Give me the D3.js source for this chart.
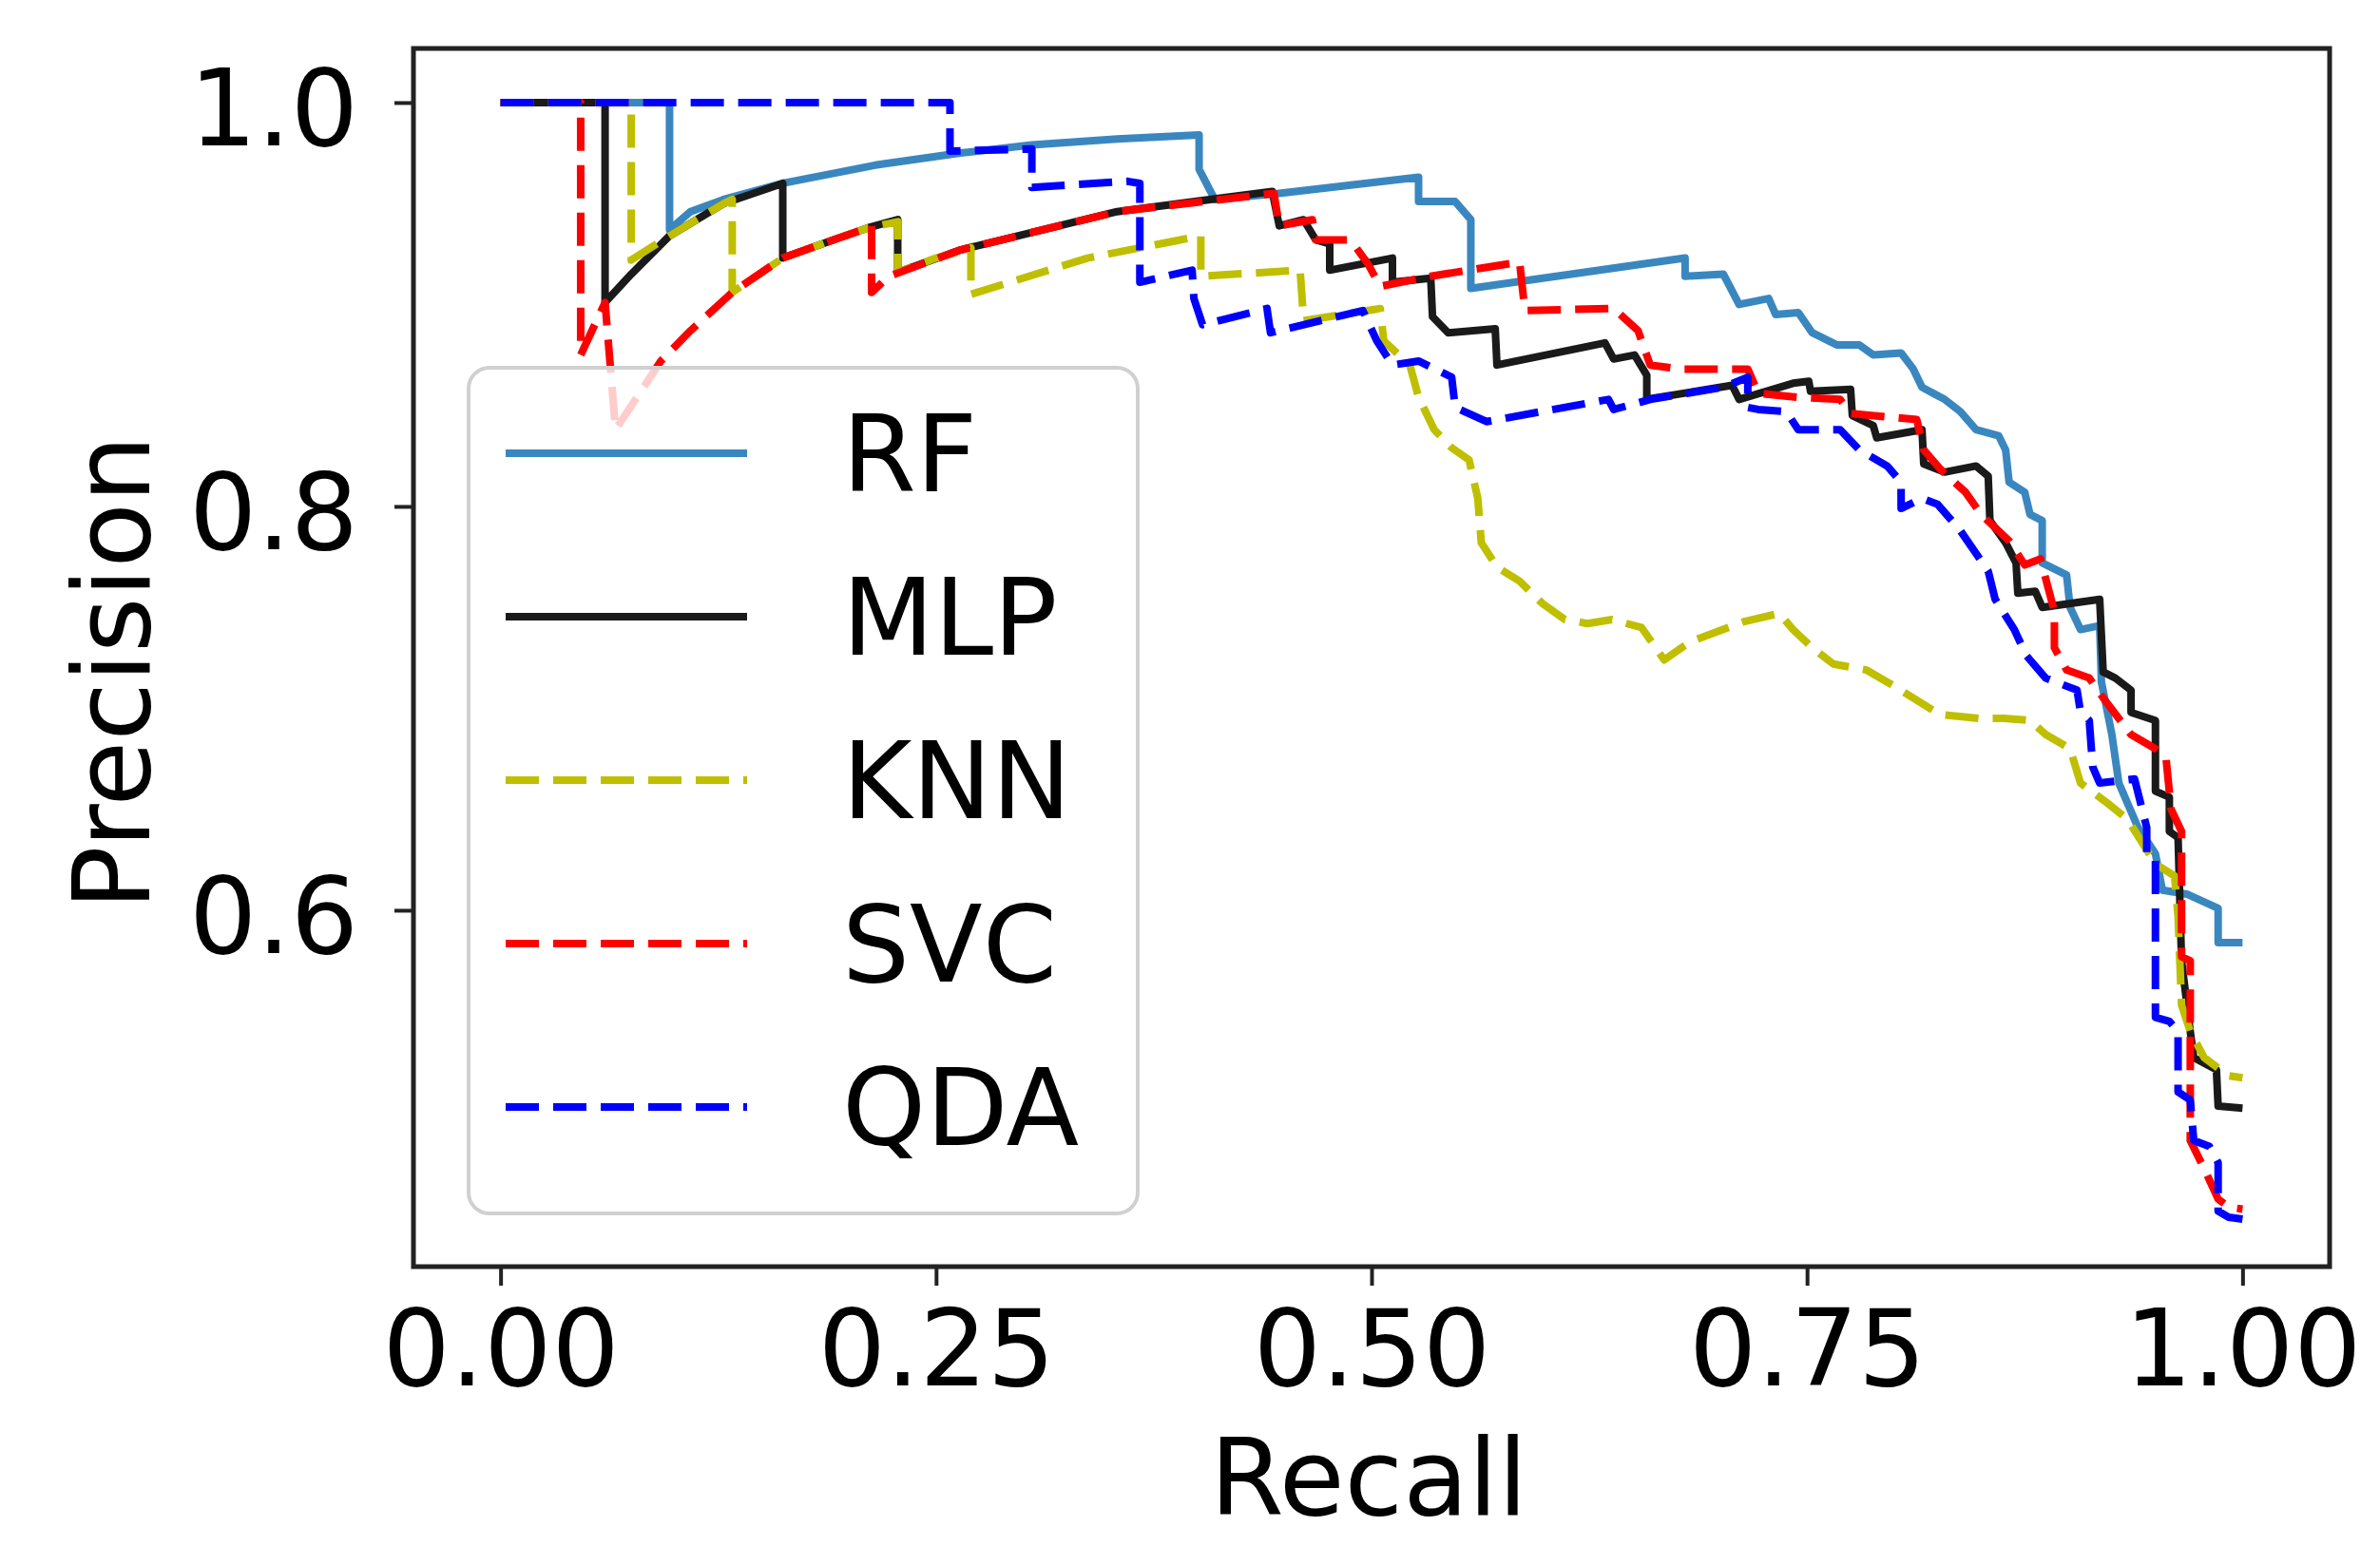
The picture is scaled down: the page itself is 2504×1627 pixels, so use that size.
<!DOCTYPE html>
<html>
<head>
<meta charset="utf-8">
<script src="https://cdnjs.cloudflare.com/ajax/libs/d3/7.8.5/d3.min.js"></script>
<style>
  body { margin: 0; background: #fff; }
  svg { display: block; }
  text { font-family: "DejaVu Sans", sans-serif; fill: #000; }
</style>
</head>
<body>
<svg id="chart"></svg>
<script>
// precision-recall curves
var models = ['RF', 'MLP', 'KNN', 'SVC', 'QDA'];
var colors = ['#3a87c0', '#1a1a1a', '#bfbf00', '#ff0000', '#0000ff'];
var dashed = [false, false, true, true, true];

var xTicks = [0, 0.25, 0.5, 0.75, 1.0];
var yTicks = [0.6, 0.8, 1.0];

var rfRecall = [0, 0.097, 0.097, 0.109, 0.128, 0.162, 0.215, 0.264, 0.305, 0.354, 0.401, 0.401, 0.410, 0.447, 0.527, 0.527, 0.548, 0.557, 0.557, 0.680, 0.680, 0.702, 0.711, 0.728, 0.732, 0.745, 0.753, 0.767, 0.780, 0.788, 0.804, 0.811, 0.816, 0.829, 0.838, 0.847, 0.860, 0.864, 0.866, 0.875, 0.878, 0.885, 0.885, 0.899, 0.901, 0.907, 0.918, 0.919, 0.925, 0.929, 0.940, 0.950, 0.954, 0.968, 0.986, 0.986, 1.0];
var rfPrecision = [1, 1, 0.937, 0.946, 0.952, 0.960, 0.969, 0.975, 0.979, 0.982, 0.984, 0.967, 0.952, 0.955, 0.963, 0.951, 0.951, 0.942, 0.908, 0.923, 0.914, 0.915, 0.900, 0.903, 0.895, 0.896, 0.886, 0.880, 0.880, 0.875, 0.876, 0.868, 0.859, 0.853, 0.847, 0.838, 0.835, 0.828, 0.812, 0.807, 0.796, 0.793, 0.772, 0.766, 0.750, 0.739, 0.741, 0.713, 0.687, 0.663, 0.641, 0.628, 0.610, 0.608, 0.601, 0.584, 0.584];

var mlpRecall = [0, 0.060, 0.060, 0.075, 0.097, 0.128, 0.162, 0.162, 0.191, 0.211, 0.228, 0.228, 0.264, 0.354, 0.443, 0.447, 0.461, 0.468, 0.476, 0.476, 0.512, 0.512, 0.534, 0.535, 0.544, 0.571, 0.572, 0.634, 0.639, 0.651, 0.658, 0.658, 0.707, 0.711, 0.742, 0.751, 0.752, 0.775, 0.776, 0.788, 0.790, 0.816, 0.817, 0.829, 0.847, 0.854, 0.855, 0.864, 0.870, 0.871, 0.881, 0.885, 0.918, 0.920, 0.927, 0.936, 0.936, 0.950, 0.950, 0.958, 0.958, 0.963, 0.965, 0.970, 0.972, 0.985, 0.986, 1.0];
var mlpPrecision = [1, 1, 0.901, 0.915, 0.934, 0.950, 0.960, 0.923, 0.932, 0.938, 0.942, 0.916, 0.927, 0.946, 0.956, 0.939, 0.942, 0.932, 0.930, 0.917, 0.923, 0.911, 0.913, 0.894, 0.886, 0.888, 0.870, 0.881, 0.873, 0.875, 0.865, 0.853, 0.860, 0.853, 0.861, 0.862, 0.857, 0.858, 0.845, 0.840, 0.834, 0.838, 0.821, 0.817, 0.820, 0.815, 0.793, 0.782, 0.772, 0.757, 0.758, 0.750, 0.754, 0.718, 0.715, 0.709, 0.698, 0.694, 0.659, 0.656, 0.639, 0.636, 0.575, 0.540, 0.527, 0.521, 0.503, 0.502];

var knnRecall = [0, 0.075, 0.075, 0.097, 0.128, 0.133, 0.133, 0.162, 0.191, 0.211, 0.228, 0.228, 0.250, 0.270, 0.270, 0.337, 0.402, 0.402, 0.459, 0.461, 0.505, 0.507, 0.522, 0.527, 0.536, 0.546, 0.556, 0.561, 0.563, 0.572, 0.585, 0.598, 0.611, 0.624, 0.638, 0.655, 0.668, 0.683, 0.714, 0.734, 0.742, 0.753, 0.765, 0.784, 0.800, 0.826, 0.849, 0.863, 0.878, 0.887, 0.901, 0.907, 0.921, 0.934, 0.950, 0.961, 0.963, 0.965, 0.970, 0.978, 0.992, 1.0];
var knnPrecision = [1, 1, 0.922, 0.934, 0.950, 0.952, 0.906, 0.923, 0.932, 0.938, 0.941, 0.916, 0.923, 0.928, 0.905, 0.923, 0.934, 0.914, 0.917, 0.892, 0.898, 0.882, 0.870, 0.854, 0.838, 0.829, 0.823, 0.804, 0.782, 0.770, 0.763, 0.752, 0.744, 0.742, 0.744, 0.740, 0.724, 0.733, 0.743, 0.747, 0.739, 0.730, 0.722, 0.719, 0.711, 0.697, 0.695, 0.695, 0.694, 0.687, 0.680, 0.663, 0.654, 0.645, 0.623, 0.617, 0.597, 0.553, 0.540, 0.527, 0.518, 0.517];

var svcRecall = [0, 0.046, 0.046, 0.060, 0.066, 0.092, 0.109, 0.133, 0.162, 0.191, 0.211, 0.213, 0.213, 0.223, 0.264, 0.354, 0.444, 0.447, 0.466, 0.468, 0.488, 0.498, 0.505, 0.534, 0.585, 0.588, 0.639, 0.653, 0.660, 0.677, 0.716, 0.722, 0.745, 0.769, 0.775, 0.813, 0.817, 0.827, 0.841, 0.850, 0.866, 0.875, 0.884, 0.892, 0.892, 0.899, 0.912, 0.921, 0.936, 0.950, 0.956, 0.959, 0.965, 0.965, 0.970, 0.970, 0.978, 0.986, 0.992, 1.0];
var svcPrecision = [1, 1, 0.875, 0.901, 0.838, 0.872, 0.887, 0.906, 0.923, 0.932, 0.938, 0.939, 0.906, 0.914, 0.927, 0.946, 0.955, 0.939, 0.942, 0.932, 0.932, 0.920, 0.909, 0.914, 0.921, 0.897, 0.898, 0.887, 0.870, 0.868, 0.868, 0.856, 0.854, 0.853, 0.846, 0.843, 0.828, 0.818, 0.807, 0.796, 0.783, 0.771, 0.774, 0.748, 0.730, 0.719, 0.715, 0.704, 0.687, 0.680, 0.676, 0.650, 0.639, 0.577, 0.575, 0.486, 0.472, 0.457, 0.453, 0.452];

var qdaRecall = [0, 0.258, 0.258, 0.305, 0.305, 0.360, 0.367, 0.367, 0.397, 0.398, 0.403, 0.440, 0.442, 0.495, 0.503, 0.512, 0.527, 0.546, 0.548, 0.566, 0.636, 0.639, 0.660, 0.702, 0.716, 0.716, 0.722, 0.738, 0.745, 0.769, 0.780, 0.796, 0.804, 0.804, 0.816, 0.825, 0.838, 0.854, 0.858, 0.869, 0.876, 0.887, 0.905, 0.907, 0.912, 0.914, 0.918, 0.938, 0.945, 0.945, 0.950, 0.950, 0.958, 0.963, 0.963, 0.970, 0.972, 0.981, 0.986, 0.986, 0.992, 1.0];
var qdaPrecision = [1, 1, 0.976, 0.977, 0.958, 0.961, 0.960, 0.911, 0.917, 0.903, 0.890, 0.898, 0.886, 0.897, 0.882, 0.870, 0.872, 0.864, 0.849, 0.842, 0.853, 0.848, 0.853, 0.859, 0.864, 0.849, 0.848, 0.847, 0.838, 0.838, 0.828, 0.820, 0.812, 0.799, 0.804, 0.801, 0.788, 0.768, 0.754, 0.739, 0.726, 0.715, 0.709, 0.698, 0.694, 0.671, 0.663, 0.665, 0.641, 0.628, 0.626, 0.547, 0.545, 0.540, 0.510, 0.506, 0.486, 0.483, 0.475, 0.451, 0.448, 0.447];

var recalls = [rfRecall, mlpRecall, knnRecall, svcRecall, qdaRecall];
var precisions = [rfPrecision, mlpPrecision, knnPrecision, svcPrecision, qdaPrecision];

var width = 2504;
var height = 1627;
var fontSize = 112;

var svg = d3.select('#chart')
  .attr('width', width)
  .attr('height', height);

var x = d3.scaleLinear().domain([-0.05, 1.05]).range([435, 2451]);
var y = d3.scaleLinear().domain([0.4235, 1.0268]).range([1333, 51]);

svg.append('defs').append('clipPath')
  .attr('id', 'plot-clip')
  .append('rect')
  .attr('x', x.range()[0])
  .attr('y', y.range()[1])
  .attr('width', x.range()[1] - x.range()[0])
  .attr('height', y.range()[0] - y.range()[1]);

var line = d3.line()
  .x(function(d) { return x(d[0]); })
  .y(function(d) { return y(d[1]); });

var curves = svg.append('g').attr('clip-path', 'url(#plot-clip)');

models.forEach(function(name, i) {
  var pts = d3.zip(recalls[i], precisions[i]);
  curves.append('path')
    .datum(pts)
    .attr('d', line)
    .attr('fill', 'none')
    .attr('stroke', colors[i])
    .attr('stroke-width', 8)
    .attr('stroke-linejoin', 'round')
    .attr('stroke-dasharray', dashed[i] ? '35,15' : null);
});

// axes
var xAxis = svg.append('g')
  .attr('transform', `translate(0, ${y.range()[0]})`)
  .call(d3.axisBottom(x)
    .tickValues(xTicks)
    .tickFormat(d3.format('.2f'))
    .tickSize(20)
    .tickPadding(25));

var yAxis = svg.append('g')
  .attr('transform', `translate(${x.range()[0]}, 0)`)
  .call(d3.axisLeft(y)
    .tickValues(yTicks)
    .tickFormat(d3.format('.1f'))
    .tickSize(20)
    .tickPadding(38));

[xAxis, yAxis].forEach(function(ax) {
  ax.select('.domain').remove();
  ax.selectAll('.tick line').attr('stroke', '#222').attr('stroke-width', 4);
  ax.selectAll('.tick text')
    .style('font-family', '"DejaVu Sans", sans-serif')
    .style('font-size', fontSize + 'px')
    .attr('fill', '#000');
});
yAxis.selectAll('.tick text').attr('dy', '0.4em');

// frame
svg.append('rect')
  .attr('x', x.range()[0])
  .attr('y', y.range()[1])
  .attr('width', x.range()[1] - x.range()[0])
  .attr('height', y.range()[0] - y.range()[1])
  .attr('fill', 'none')
  .attr('stroke', '#222')
  .attr('stroke-width', 5);

// axis labels
svg.append('text')
  .attr('x', 1440)
  .attr('y', 1594)
  .attr('text-anchor', 'middle')
  .style('font-size', fontSize + 'px')
  .text('Recall');

svg.append('text')
  .attr('transform', 'translate(157, 708) rotate(-90)')
  .attr('text-anchor', 'middle')
  .style('font-size', fontSize + 'px')
  .text('Precision');

// legend
var legend = svg.append('g');
legend.append('rect')
  .attr('x', 493)
  .attr('y', 387)
  .attr('width', 704)
  .attr('height', 890)
  .attr('rx', 22)
  .attr('fill', '#fff')
  .attr('fill-opacity', 0.8)
  .attr('stroke', '#d0d0d0')
  .attr('stroke-width', 4);

models.forEach(function(name, i) {
  var ly = 477 + i * 172;
  legend.append('line')
    .attr('x1', 532).attr('x2', 786)
    .attr('y1', ly).attr('y2', ly)
    .attr('stroke', colors[i])
    .attr('stroke-width', 8)
    .attr('stroke-dasharray', dashed[i] ? '35,15' : null);
  legend.append('text')
    .attr('x', 886)
    .attr('y', ly)
    .attr('dy', '0.36em')
    .style('font-size', fontSize + 'px')
    .text(name);
});
</script>
</body>
</html>
